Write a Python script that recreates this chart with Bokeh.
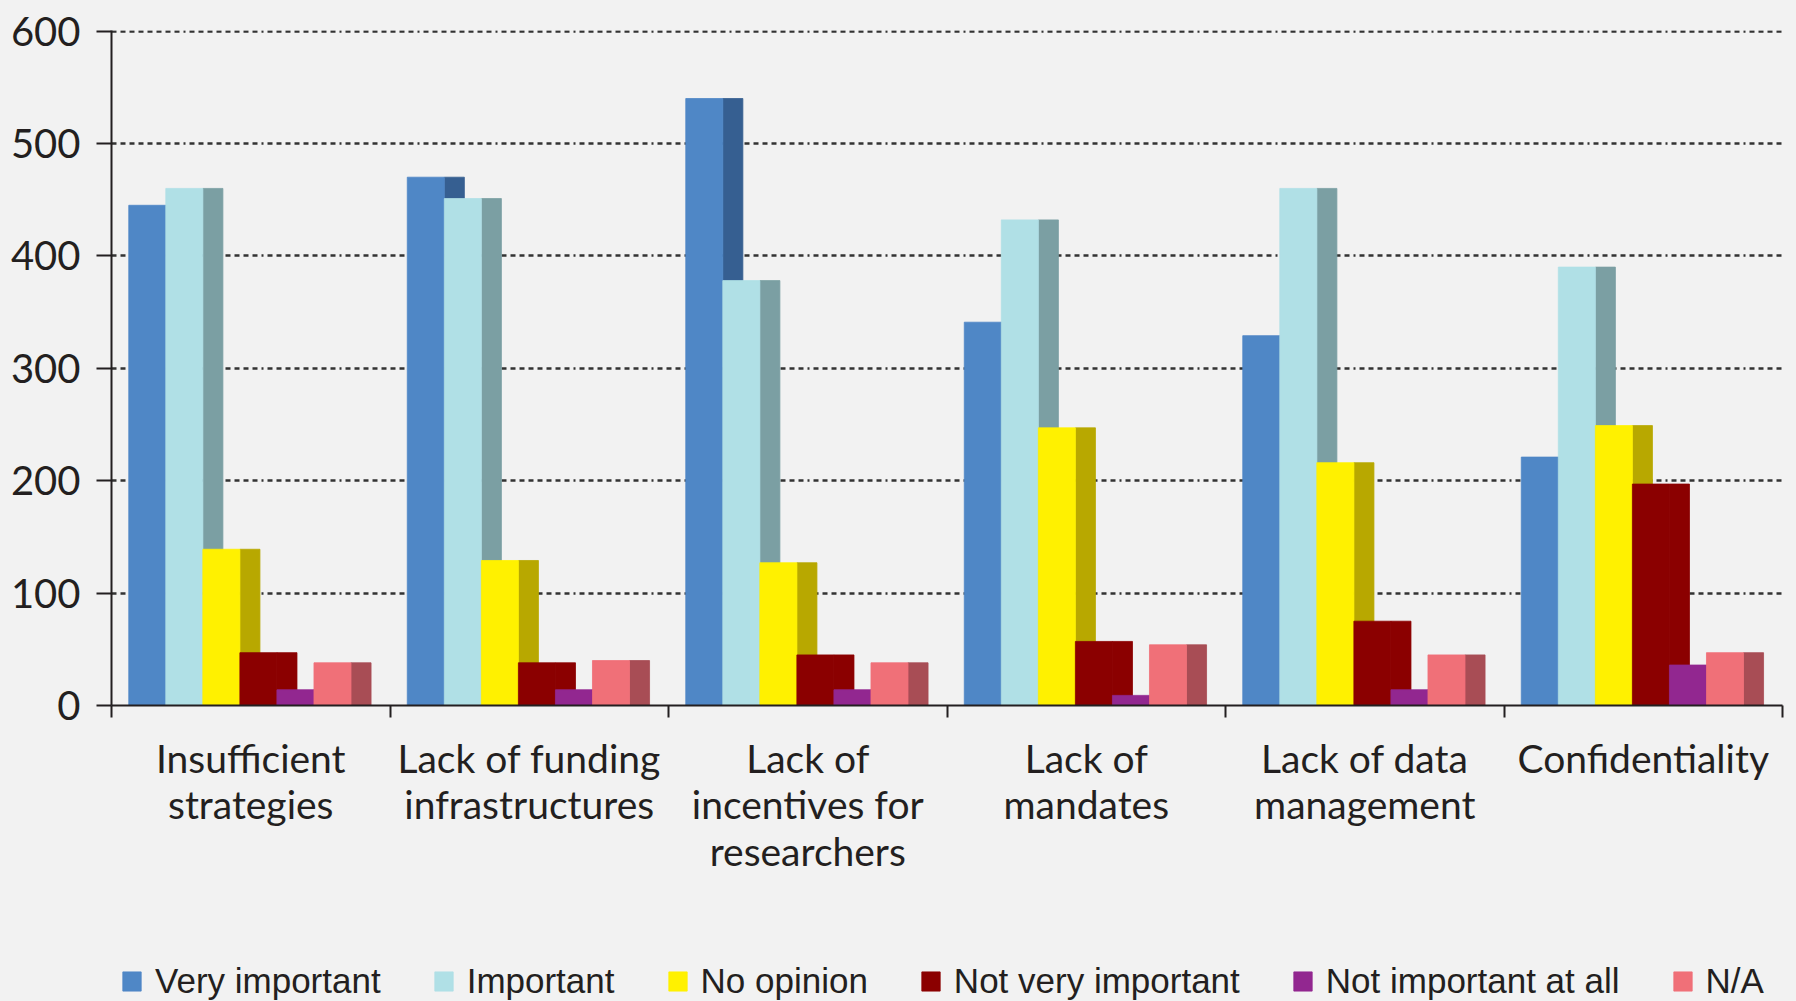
from bokeh.plotting import figure
from bokeh.layouts import column
from bokeh.models import ColumnDataSource, FixedTicker, Range1d, Legend, LegendItem
from bokeh.embed import file_html
from bokeh.resources import INLINE

# ---- data ----
categories = ["Insufficient\nstrategies", "Lack of funding\ninfrastructures",
              "Lack of\nincentives for\nresearchers", "Lack of\nmandates",
              "Lack of data\nmanagement", "Confidentiality"]
series_names = ["Very important", "Important", "No opinion",
                "Not very important", "Not important at all", "N/A"]
very_important = [445, 470, 540, 341, 329, 221]
important = [460, 451, 378, 432, 460, 390]
no_opinion = [139, 129, 127, 247, 216, 249]
not_very_important = [47, 38, 45, 57, 75, 197]
not_important_at_all = [14, 14, 14, 9, 14, 36]
n_a = [38, 40, 38, 54, 45, 47]
y_ticks = [0, 100, 200, 300, 400, 500, 600]

series_values = [very_important, important, no_opinion,
                 not_very_important, not_important_at_all, n_a]
front_colors = ["#4F87C6", "#B0E0E6", "#FFF100", "#8B0000", "#922790", "#F07078"]
side_colors = ["#365F91", "#7B9FA3", "#B8A800", "#8B0000", "#6B1F69", "#A84D55"]
BG = "#F2F2F2"

# ---- layout constants ----
OFFSET = 0.062
BAR_W = 0.133
DEPTH = 0.072

p = figure(frame_width=1671, frame_height=675, output_backend="svg", toolbar_location=None,
           x_range=Range1d(0, len(categories)), y_range=Range1d(0, 600.5),
           min_border_left=111, min_border_right=14, min_border_top=30,
           min_border_bottom=226)
p.background_fill_color = BG
p.border_fill_color = BG
p.outline_line_color = None

# sides first, then fronts
fronts = []
for j, (vals, fc, sc) in enumerate(zip(series_values, front_colors, side_colors)):
    left = [i + OFFSET + j * BAR_W for i in range(len(categories))]
    src = ColumnDataSource(dict(
        left=left,
        right=[l + BAR_W for l in left],
        side_r=[l + BAR_W + DEPTH for l in left],
        top=vals,
        bottom=[0] * len(vals)))
    p.quad(left="right", right="side_r", top="top", bottom="bottom", source=src,
           fill_color=sc, line_color=sc, line_width=0.8)
    fronts.append(src)

for j, src in enumerate(fronts):
    p.quad(left="left", right="right", top="top", bottom="bottom", source=src,
           fill_color=front_colors[j], line_color=front_colors[j], line_width=0.8)

# ---- grid ----
p.xgrid.grid_line_color = None
p.ygrid.ticker = FixedTicker(ticks=y_ticks)
p.ygrid.grid_line_color = "#333333"
p.ygrid.grid_line_width = 2.5
p.ygrid.grid_line_dash = "5 4 5 4 5 4 5 4 5 4 5 4 5 4 5 4 2 4"

# ---- axes ----
ax = p.xaxis[0]
ax.ticker = FixedTicker(ticks=[i + 0.5 for i in range(len(categories))],
                        minor_ticks=list(range(len(categories) + 1)))
ax.major_label_overrides = {i + 0.5: c for i, c in enumerate(categories)}
ax.major_tick_out = 0
ax.major_tick_in = 0
ax.minor_tick_out = 12
ax.minor_tick_in = 0
ax.minor_tick_line_color = "#231F20"
ax.minor_tick_line_width = 2
ax.axis_line_color = "#231F20"
ax.axis_line_width = 2
ax.major_label_standoff = 17
ax.major_label_text_font = "Lato"
ax.major_label_text_font_size = "39px"
ax.major_label_text_color = "#231F20"
ax.major_label_text_line_height = 1.02

ay = p.yaxis[0]
ay.ticker = FixedTicker(ticks=y_ticks)
ay.minor_tick_line_color = None
ay.major_tick_out = 15
ay.major_tick_in = 0
ay.major_tick_line_color = "#231F20"
ay.major_tick_line_width = 2
ay.axis_line_color = "#231F20"
ay.axis_line_width = 2
ay.major_label_standoff = 16
ay.major_label_text_font = "Lato"
ay.major_label_text_font_size = "40px"
ay.major_label_text_color = "#231F20"

# ---- legend (separate strip below the chart) ----
# same bar sources, viewed through a y-range above the data so only the legend shows
lg = figure(frame_width=1671, frame_height=70, output_backend="svg", toolbar_location=None,
            x_range=Range1d(0, len(categories)), y_range=Range1d(1000, 1001),
            x_axis_type=None, y_axis_type=None,
            min_border_left=111, min_border_right=14, min_border_top=0, min_border_bottom=0)
lg.background_fill_color = BG
lg.border_fill_color = BG
lg.outline_line_color = None
lg.grid.visible = False
legend_renderers = []
for j, src in enumerate(fronts):
    r = lg.quad(left="left", right="right", top="top", bottom="bottom", source=src,
                fill_color=front_colors[j], line_color=front_colors[j], line_width=0.8)
    legend_renderers.append(r)

legend = Legend(items=[LegendItem(label=n, renderers=[r]) for n, r in zip(series_names, legend_renderers)],
                orientation="horizontal", location=(9, 0),
                glyph_width=23, glyph_height=24, label_standoff=12, spacing=51,
                padding=0, margin=0,
                label_text_font="Liberation Sans", label_text_font_size="35px",
                label_text_color="#231F20", label_height=24,
                background_fill_alpha=0, border_line_alpha=0)
lg.add_layout(legend, "center")

layout = column(p, lg, spacing=0)
html = file_html(layout, INLINE)
html = html.replace("<head>", "<head><style>html, body { background: #F2F2F2; }</style>", 1)
open("out.html", "w").write(html)
